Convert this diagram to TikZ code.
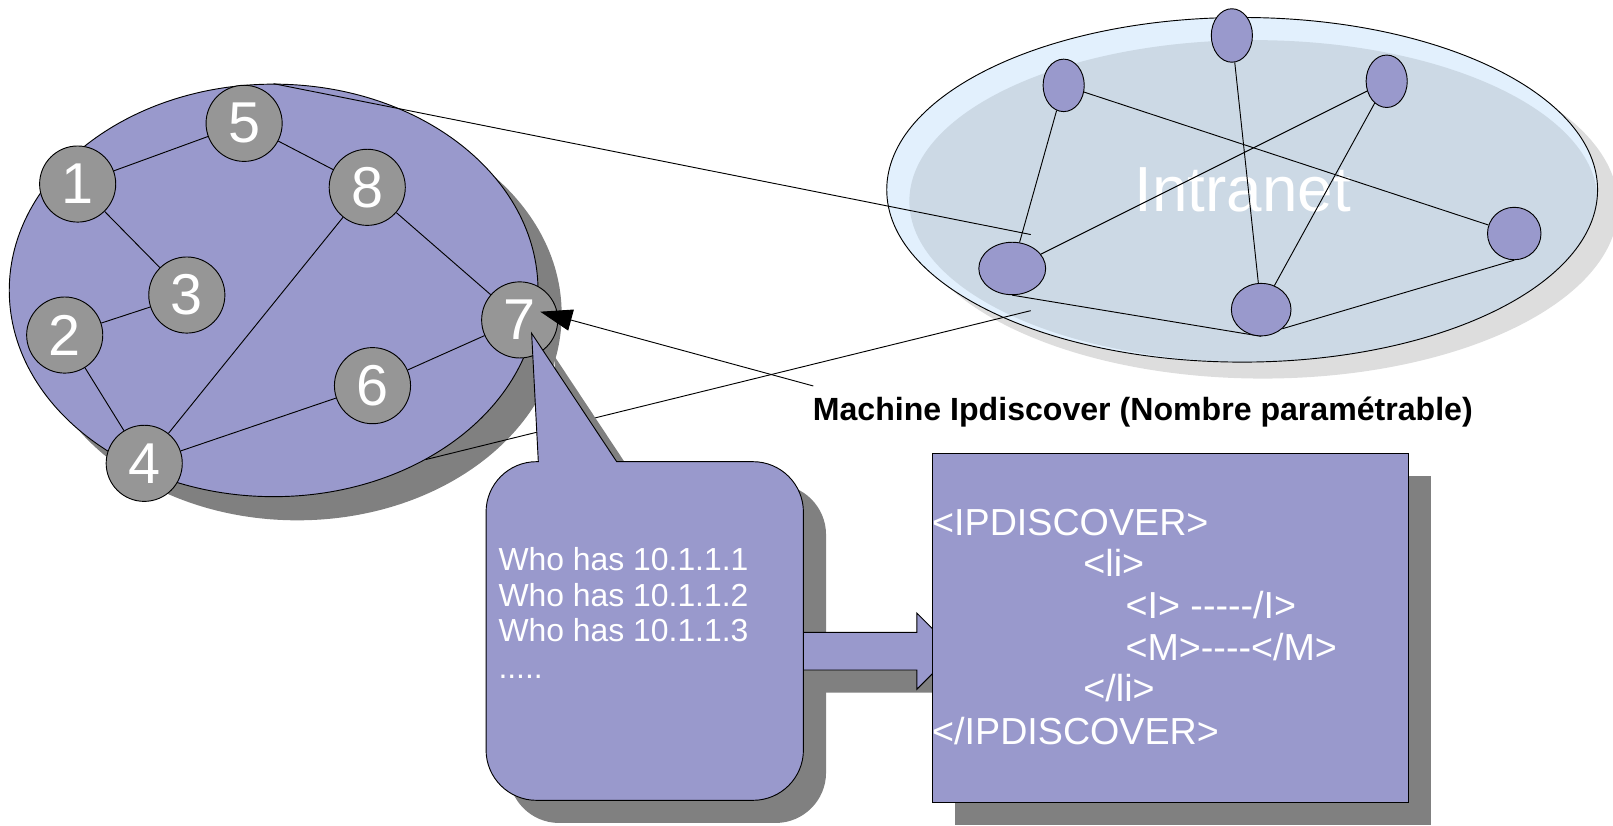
\documentclass[tikz,border=0pt]{standalone}
\usepackage{fontspec}
\setmainfont{Liberation Sans}[Ligatures=TeXOff]
\usetikzlibrary{arrows.meta,shapes.geometric,calc}
\definecolor{purp}{HTML}{9999CC}
\definecolor{nodegray}{HTML}{969696}
\definecolor{shadowgray}{HTML}{808080}
\definecolor{ltblue}{HTML}{E2F0FD}
\definecolor{innerblue}{HTML}{CCD9E5}
\definecolor{ltshadow}{HTML}{DDDDDD}
\pgfdeclarelayer{bg}
\pgfdeclarelayer{edgelayer}
\pgfsetlayers{bg,edgelayer,main}
\tikzset{
  netnode/.style={circle, draw=black, line width=0.9pt, fill=nodegray, minimum size=74pt, inner sep=0pt, text=white, font=\fontsize{56}{56}\selectfont},
  inode/.style={ellipse, draw=black, line width=0.9pt, fill=purp, inner sep=0pt},
  link/.style={draw=black, line width=0.9pt},
  shapebox/.style={draw=black, line width=0.9pt, fill=purp},
  balloontext/.style={text=white, inner sep=0pt, anchor=base west, font=\fontsize{31}{31}\selectfont},
  xmltext/.style={text=white, inner sep=0pt, anchor=base west, font=\fontsize{36.6}{36.6}\selectfont}
}
\begin{document}
\begin{tikzpicture}[x=1pt,y=-1pt]
\useasboundingbox (0,0) rectangle (1568,802);
% background shapes
\begin{pgfonlayer}{bg}
  \fill[shadowgray] (289,305.3) ellipse[x radius=257pt, y radius=200.5pt];
  \node[ellipse, draw=black, line width=0.9pt, fill=purp, minimum width=514pt, minimum height=401pt, inner sep=0pt] (bigell) at (266,282.3) {};
  \fill[ltshadow] (1227.5,200.5) ellipse[x radius=345.5pt, y radius=167.5pt];
  \node[ellipse, fill=ltblue, minimum width=691pt, minimum height=335pt, inner sep=0pt] (intra) at (1207.5,184.5) {};
  \begin{scope}
    \clip (1207.5,184.5) ellipse[x radius=345.5pt, y radius=167.5pt];
    \fill[innerblue] (1218.5,195.5) ellipse[x radius=334.5pt, y radius=156.5pt];
  \end{scope}
  \draw[line width=0.9pt] (1207.5,184.5) ellipse[x radius=345.5pt, y radius=167.5pt];
  \node[text=white, inner sep=0pt, font=\fontsize{62}{62}\selectfont] (intratxt) at (1208,185) {Intranet};
\end{pgfonlayer}
% local network nodes
\node[netnode] (n1) at (75.5,178.9) {1};
\node[netnode] (n5) at (237.3,119.9) {5};
\node[netnode] (n8) at (357,182.1) {8};
\node[netnode] (n3) at (181.6,286.8) {3};
\node[netnode] (n2) at (62.9,325.7) {2};
\node[netnode] (n7) at (505.2,311) {7};
\node[netnode] (n6) at (362.1,374.9) {6};
\node[netnode] (n4) at (140.2,450.4) {4};
% intranet nodes
\node[inode, minimum width=40pt, minimum height=52pt] (iA) at (1197.5,34.5) {};
\node[inode, minimum width=40pt, minimum height=51pt] (iB) at (1034,83) {};
\node[inode, minimum width=40pt, minimum height=51pt] (iC) at (1348,79) {};
\node[inode, minimum width=52pt, minimum height=51pt] (iD) at (1472,227) {};
\node[inode, minimum width=65pt, minimum height=51pt] (iE) at (984,261) {};
\node[inode, minimum width=58pt, minimum height=51pt] (iF) at (1226,301) {};
% edges
\begin{pgfonlayer}{edgelayer}
  \draw[link] (n1) -- (n5);
  \draw[link] (n1) -- (n3);
  \draw[link] (n5) -- (n8);
  \draw[link] (n8) -- (n7);
  \draw[link] (n8) -- (n4);
  \draw[link] (n2) -- (n3);
  \draw[link] (n2) -- (n4);
  \draw[link] (n4) -- (n6);
  \draw[link] (n6) -- (n7);
  \draw[link] (iB) -- (iE);
  \draw[link] (iB) -- (iD);
  \draw[link] (iA) -- (iF);
  \draw[link] (iC) -- (iE);
  \draw[link] (iC) -- (iF);
  \draw[link] (iE.south) -- (iF.south);
  \draw[link] (iF.-42) -- (iD.south);
\end{pgfonlayer}
% zoom lines
\coordinate (topin) at (1002,228);
\coordinate (botin) at (1002,302);
\draw[link] (bigell.north) -- (topin);
\draw[link] (bigell.-48.5) -- (botin);
% label and arrow
\node[anchor=base west, inner sep=0pt, font=\fontsize{31.2}{31.2}\selectfont\bfseries] (lbl) at (790,408.3) {Machine Ipdiscover (Nombre paramétrable)};
\coordinate (arrstart) at (790.6,375.2);
\coordinate (arrtip) at ($(n7)+(20,-8)$);
\draw[link, -{Triangle[length=31pt,width=21pt]}] (arrstart) -- (arrtip);
% shadows
\begin{scope}[shift={(22,22)}]
  \fill[shadowgray] (523.3,448.8) -- (516.8,324) -- (599.5,448.8) -- (732,448.8) arc[start angle=90,end angle=0,radius=49pt] -- (781,729) arc[start angle=0,end angle=-90,radius=49pt] -- (521.5,778) arc[start angle=-90,end angle=-180,radius=49pt] -- (472.5,497.8) arc[start angle=180,end angle=90,radius=49pt] -- cycle;
  \fill[shadowgray] (781,614.7) -- (891.2,614.7) -- (891.2,595.9) -- (928.3,633) -- (891.2,670.1) -- (891.2,651.3) -- (781,651.3) -- cycle;
  \fill[shadowgray] (906.3,440.7) rectangle (1369,780);
\end{scope}
% block arrow
\draw[shapebox] (781,614.7) -- (891.2,614.7) -- (891.2,595.9) -- (928.3,633) -- (891.2,670.1) -- (891.2,651.3) -- (781,651.3) -- cycle;
% balloon
\draw[shapebox] (523.3,448.8) -- (516.8,324) -- (599.5,448.8) -- (732,448.8) arc[start angle=90,end angle=0,radius=49pt] -- (781,729) arc[start angle=0,end angle=-90,radius=49pt] -- (521.5,778) arc[start angle=-90,end angle=-180,radius=49pt] -- (472.5,497.8) arc[start angle=180,end angle=90,radius=49pt] -- cycle;
\node[balloontext] (w1) at (484.4,554.1) {Who has 10.1.1.1};
\node[balloontext] (w2) at (484.4,589.1) {Who has 10.1.1.2};
\node[balloontext] (w3) at (484.4,623.8) {Who has 10.1.1.3};
\node[balloontext] (w4) at (484.4,659.4) {.....};
% xml box
\node[shapebox, minimum width=462.7pt, minimum height=339.3pt, inner sep=0pt, anchor=north west] (xmlbox) at (906.3,440.7) {};
\node[xmltext] (x1) at (906,521) {<IPDISCOVER>};
\node[xmltext] (x2) at (1053,560.6) {<li>};
\node[xmltext] (x3) at (1094,601.2) {<I> -----/I>};
\node[xmltext] (x4) at (1094,641.6) {<M>----</M>};
\node[xmltext] (x5) at (1053,682.1) {</li>};
\node[xmltext] (x6) at (906,724.2) {</IPDISCOVER>};
\end{tikzpicture}
\end{document}
